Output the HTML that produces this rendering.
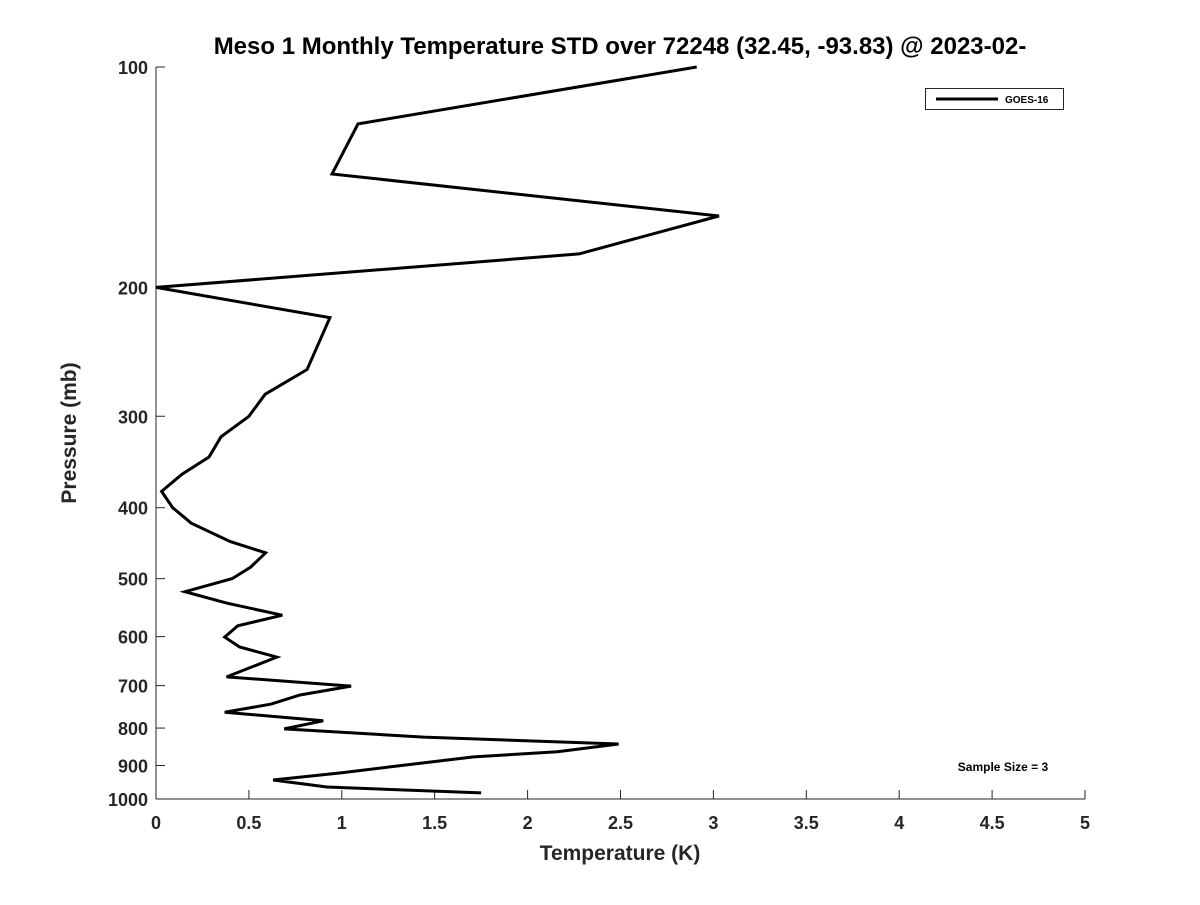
<!DOCTYPE html>
<html><head><meta charset="utf-8"><style>
body{margin:0;background:#fff;}
svg text{font-family:"Liberation Sans","DejaVu Sans",sans-serif;font-weight:bold;fill:#262626;}
</style></head><body>
<svg id="chart" width="1200" height="900" xmlns="http://www.w3.org/2000/svg">
<rect width="1200" height="900" fill="#fff"/>
<text x="620" y="54" text-anchor="middle" font-size="24" style="fill:#000">Meso 1 Monthly Temperature STD over 72248 (32.45, -93.83) @ 2023-02-</text>
<g id="axes"></g>
<polyline id="series" fill="none" stroke="#000" stroke-width="3" stroke-linejoin="miter"/>
<text x="620" y="860" text-anchor="middle" font-size="21">Temperature (K)</text>
<text transform="translate(76,433) rotate(-90)" text-anchor="middle" font-size="21">Pressure (mb)</text>
<g>
<rect x="925.5" y="88.5" width="138" height="21" fill="#fff" stroke="#262626" stroke-width="1"/>
<line x1="936" y1="99" x2="998" y2="99" stroke="#000" stroke-width="3"/>
<text x="1005" y="103" font-size="10" style="fill:#000">GOES-16</text>
</g>
<text x="1003" y="771" text-anchor="middle" font-size="12" style="fill:#000">Sample Size = 3</text>
</svg>
<script>
const temps=[2.91,1.087,0.947,3.03,2.277,0,0.936,0.813,0.587,0.5,0.35,0.285,0.14,0.03,0.09,0.19,0.40,0.59,0.51,0.41,0.156,0.38,0.68,0.44,0.37,0.45,0.65,0.38,1.05,0.775,0.62,0.37,0.90,0.69,1.44,2.49,2.16,1.71,1.27,1.0,0.63,0.92,1.75];
const pressures=[100,119.6,140,159.8,180,200,220,259,280,300,320,341,360,380,400,420,445,461,482,500,521,540,561,580,601,620,640,681,701,721,742,761,782,802,823,841,862,876,903,921,942,963,981];
const xTicks=[0,0.5,1,1.5,2,2.5,3,3.5,4,4.5,5];
const xTickLabels=["0","0.5","1","1.5","2","2.5","3","3.5","4","4.5","5"];
const yTicks=[100,200,300,400,500,600,700,800,900,1000];
const yTickLabels=["100","200","300","400","500","600","700","800","900","1000"];
const X0=156,X1=1085,Y0=67,Y1=799;
function xs(t){return X0+(t-0)/(5-0)*(X1-X0);}
function ys(p){return Y0+Math.log10(p/100)/Math.log10(10)*(Y1-Y0);}
const NS="http://www.w3.org/2000/svg";
const ax=document.getElementById('axes');
function mk(tag,attrs){const e=document.createElementNS(NS,tag);for(const k in attrs)e.setAttribute(k,attrs[k]);return e;}
let l=mk('line',{x1:X0,y1:Y0,x2:X0,y2:Y1,stroke:'#262626','stroke-width':1});


ax.appendChild(l);
l=mk('line',{x1:X0,y1:Y1,x2:X1,y2:Y1,stroke:'#262626','stroke-width':1});


ax.appendChild(l);
xTicks.forEach((t,i)=>{
 const x=xs(t);
 const tk=mk('line',{x1:x,y1:Y1,x2:x,y2:Y1-9,stroke:'#262626','stroke-width':1});
 
 
 ax.appendChild(tk);
 const tx=mk('text',{x:x,y:Y1+30,'text-anchor':'middle','font-size':18});
 
 
 tx.textContent=xTickLabels[i];ax.appendChild(tx);
});
yTicks.forEach((p,i)=>{
 const y=ys(p);
 const tk=mk('line',{x1:X0,y1:y,x2:X0+9,y2:y,stroke:'#262626','stroke-width':1});
 
 
 ax.appendChild(tk);
 const tx=mk('text',{x:X0-8,y:y+7,'text-anchor':'end','font-size':18});
 
 
 tx.textContent=yTickLabels[i];ax.appendChild(tx);
});
document.getElementById('series').setAttribute('points',temps.map((t,i)=>xs(t).toFixed(1)+','+ys(pressures[i]).toFixed(1)).join(' '));
</script>
</body></html>
